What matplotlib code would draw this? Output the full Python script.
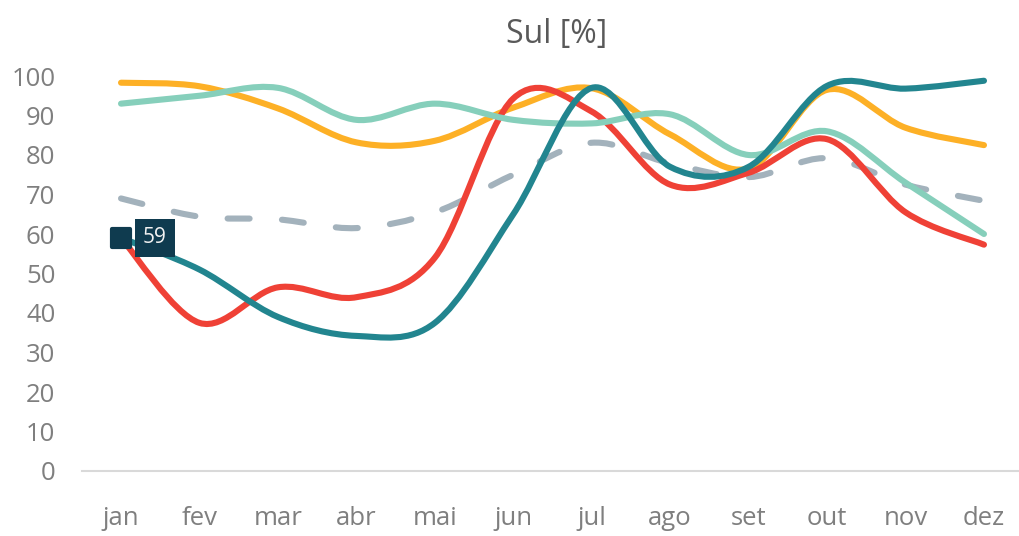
import numpy as np
import matplotlib
matplotlib.use("Agg")
import matplotlib.pyplot as plt
from matplotlib.path import Path
from matplotlib.patches import PathPatch
from matplotlib.markers import MarkerStyle

plt.rcParams['font.family'] = ['Open Sans', 'DejaVu Sans']

months = ["jan", "fev", "mar", "abr", "mai", "jun", "jul", "ago", "set", "out", "nov", "dez"]

# values (%)
media = [69, 64.4, 63.7, 61.5, 65.5, 75, 83.1, 77.9, 74.4, 79.2, 72.5, 68.4]
amarelo = [98.3, 97.4, 91.8, 83.2, 83.6, 92.0, 96.9, 85.2, 76.6, 96.5, 86.9, 82.5]
vermelho = [59, 37.5, 46.5, 44, 54, 94.3, 91, 72.5, 75.5, 84, 65.5, 57.3]
verde = [93, 95, 97, 88.9, 93, 88.9, 88, 90.3, 80, 86, 73, 60]
azul = [59, 51, 39, 34.2, 37.5, 65, 97, 77, 77, 97.5, 96.8, 98.8]

yticks = list(range(0, 101, 10))


def smooth_path(x, y):
    # Excel-style smoothed line: cubic Bezier through every point
    pts = np.column_stack([x, y]).astype(float)
    ext = np.vstack([pts[0], pts, pts[-1]])
    verts = [pts[0]]
    codes = [Path.MOVETO]
    for i in range(len(pts) - 1):
        p0, p1, p2, p3 = ext[i], ext[i + 1], ext[i + 2], ext[i + 3]
        verts += [p1 + (p2 - p0) / 6, p2 - (p3 - p1) / 6, p2]
        codes += [Path.CURVE4] * 3
    return Path(verts, codes)


fig = plt.figure(figsize=(10.19, 5.36), dpi=100)
ax = fig.add_axes([81.8 / 1019, 1 - 471 / 536, (1023.2 - 81.8) / 1019, (471 - 76) / 536])

x = np.arange(len(months))
series = [
    (media, "#a3b2bc", True),
    (amarelo, "#fdb026", False),
    (vermelho, "#ef4136", False),
    (verde, "#86cfbb", False),
    (azul, "#22858f", False),
]
for z, (vals, col, dashed) in enumerate(series):
    ls = (0, (3.6, 5.3)) if dashed else "-"
    patch = PathPatch(smooth_path(x, vals), facecolor="none", edgecolor=col,
                      lw=4.4, linestyle=ls, capstyle="round", joinstyle="round",
                      zorder=2 + z, clip_on=False)
    ax.add_patch(patch)

# data label on first point
ax.plot(x[0], azul[0], marker=MarkerStyle("s", joinstyle="round"), ms=12.5,
        color="#0f3b4f", mec="#0f3b4f", mew=3, zorder=10, clip_on=False)
ax.annotate(f"{azul[0]:.0f}", xy=(x[0], azul[0]), xytext=(24.5, 0),
            textcoords="offset points", ha="center", va="center",
            fontsize=15, color="#f2f2f2", zorder=11,
            bbox=dict(boxstyle="square,pad=0.4", fc="#0f3b4f", ec="none"))

ax.set_xlim(-0.5, len(months) - 0.5)
ax.set_ylim(0, 100)
ax.set_xticks(x)
ax.set_xticklabels(months)
ax.set_yticks(yticks)
for s in ["top", "right", "left"]:
    ax.spines[s].set_visible(False)
ax.spines["bottom"].set_color("#d9d9d9")
ax.spines["bottom"].set_linewidth(1.5)
ax.tick_params(axis="both", length=0, labelsize=18.5, colors="#7f7f7f")
ax.tick_params(axis="x", pad=25)
ax.tick_params(axis="y", pad=19)

fig.text(557 / 1019, 1 - 35 / 536, "Sul [%]", ha="center", va="center",
         fontsize=23, color="#595959")

fig.savefig("out.png", dpi=100)
